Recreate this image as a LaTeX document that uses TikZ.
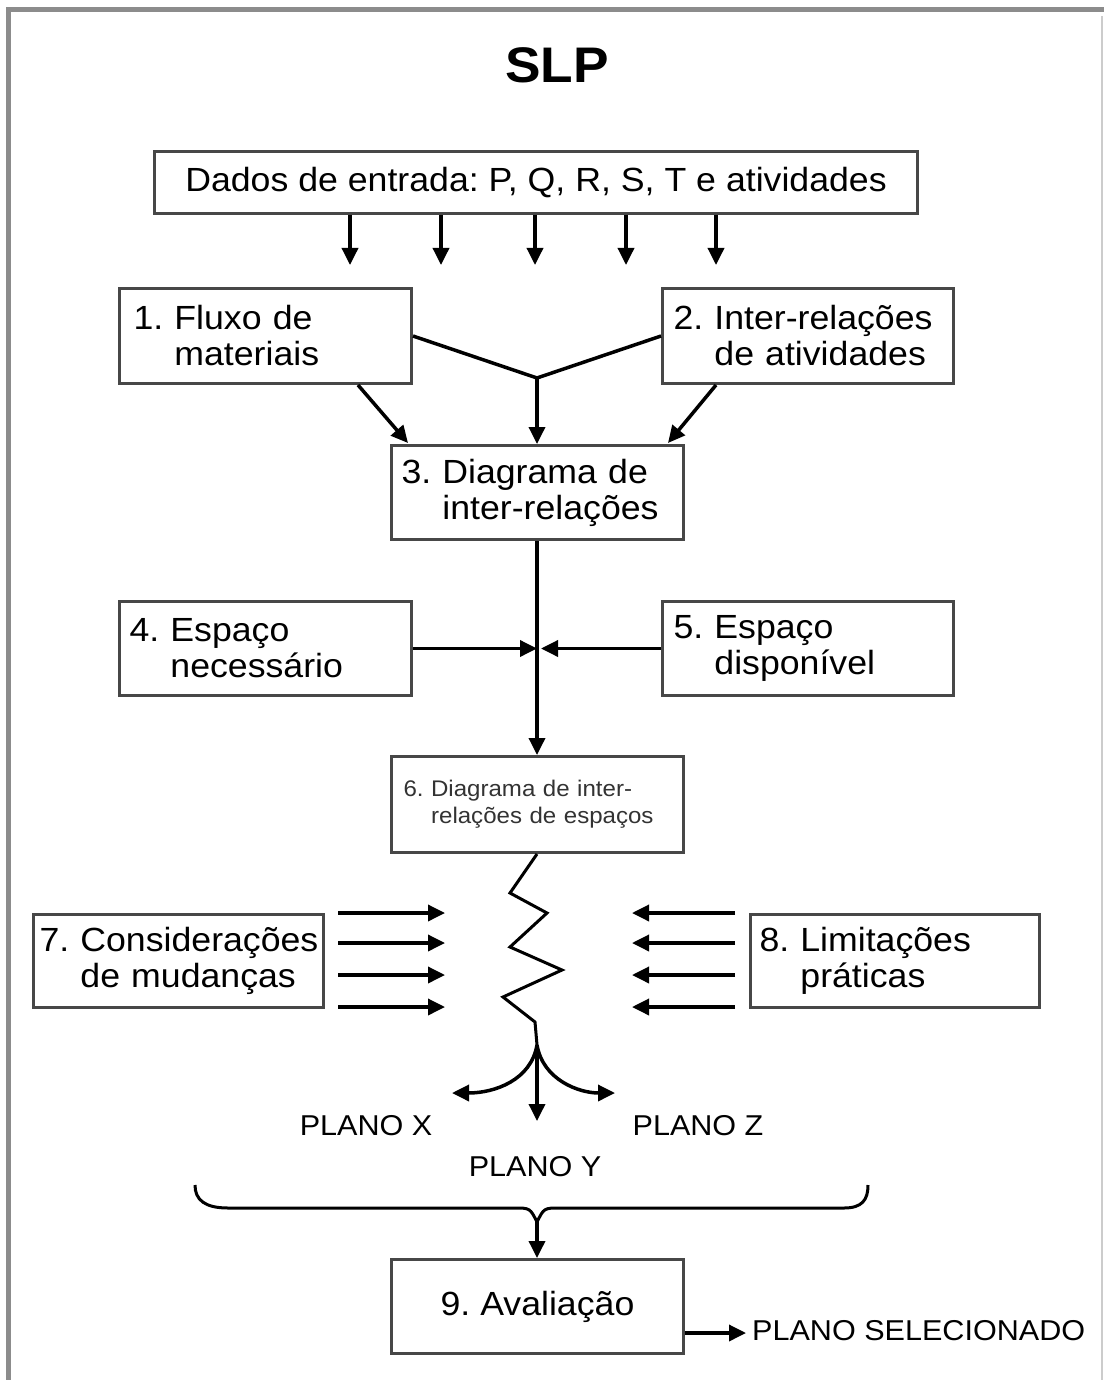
\documentclass[tikz,border=0pt]{standalone}
\usepackage{fontspec}
\setmainfont{Liberation Sans}[FakeStretch=1.065]
\usetikzlibrary{arrows.meta,calc}
\newcommand\mainfs{\fontsize{33.5}{36}\selectfont}
\newcommand\smallfs{\fontsize{22.6}{27}\selectfont}
\newcommand\labfs{\fontsize{28.7}{30}\selectfont}
\begin{document}
\frenchspacing
\begin{tikzpicture}[x=1pt,y=-1pt,
  box/.style={draw=black!72, line width=3pt, rectangle, anchor=north west,
    inner ysep=0pt, font=\mainfs, text=black},
  lbox/.style={box, align=left},
  line/.style={line width=3.5pt, black},
  arr/.style={line width=3.5pt, black, -{Triangle[length=17pt,width=16pt]}},
  lab/.style={font=\labfs, text=black, inner sep=0pt}]
\useasboundingbox (0,0) rectangle (1104,1380);
\fill[white] (0,0) rectangle (1104,1380);
% frame
\draw[black!45, line width=5pt] (8,1380) -- (8,10) -- (1104,10);
\draw[black!20, line width=1.5pt] (1102,16) -- (1102,1380);

\node[font=\fontsize{50}{50}\selectfont\bfseries] (title) at (557,65) {SLP};

\node[box, align=center, minimum width=763pt, minimum height=62pt] (top) at (153,150)
  {Dados de entrada: P, Q, R, S, T e atividades};

\node[lbox, minimum width=292pt, minimum height=95pt, inner xsep=14pt, text width=264pt] (b1) at (118,287)
  {\mbox{1. Fluxo de}\\\mbox{\hphantom{1. }materiais}};
\node[lbox, minimum width=291pt, minimum height=95pt, inner xsep=11pt, text width=269pt] (b2) at (661,287)
  {\mbox{2. Inter-relações}\\\mbox{\hphantom{2. }de atividades}};
\node[lbox, minimum width=292pt, minimum height=94pt, inner xsep=10pt, text width=272pt] (b3) at (390,444)
  {\mbox{3. Diagrama de}\\\mbox{\hphantom{3. }inter-relações}};
\node[lbox, minimum width=292pt, minimum height=94pt, inner xsep=10pt, text width=272pt] (b4) at (118,600)
  {\mbox{4. Espaço}\\\mbox{\hphantom{4. }necessário}};
\node[lbox, minimum width=291pt, minimum height=94pt, inner xsep=11pt, text width=269pt] (b5) at (661,600)
  {\mbox{5. Espaço}\\\mbox{\hphantom{5. }disponível}};
\node[lbox, font=\smallfs, text=black!80, minimum width=292pt, minimum height=96pt, inner xsep=12pt, text width=268pt] (b6) at (390,755)
  {\mbox{6. Diagrama de inter-}\\\mbox{\hphantom{6. }relações de espaços}};
\node[lbox, minimum width=290pt, minimum height=93pt, inner xsep=6pt, text width=278pt] (b7) at (32,913)
  {\mbox{7. Considerações}\\\mbox{\hphantom{7. }de mudanças}};
\node[lbox, minimum width=289pt, minimum height=93pt, inner xsep=9pt, text width=271pt] (b8) at (749,913)
  {\mbox{8. Limitações}\\\mbox{\hphantom{8. }práticas}};
\node[box, align=center, minimum width=292pt, minimum height=94pt] (b9) at (390,1258)
  {9. Avaliação};

% input arrows
\foreach \x in {350,441,535,626,716}{
  \coordinate (tx) at (\x,0);
  \draw[arr] (top.south -| tx) -- ++(0,50);
}

% 1 & 2 -> 3
\coordinate (j1) at (537,378);
\draw[line] (b1.east) -- (j1) -- (b2.west);
\draw[arr] (j1) -- (b3.north -| j1);
\draw[arr] ($(b1.south east)+(-55,0)$) -- ($(b3.north west)+(18,-1)$);
\draw[arr] ($(b2.south west)+(55,0)$) -- ($(b3.north east)+(-17,-1)$);

% 3 -> 6 with 4,5
\coordinate (vx) at (537,0);
\draw[arr] (b3.south -| vx) -- (b6.north -| vx);
\draw[arr] (b4.east) -- (b4.east -| vx);
\draw[arr] (b5.west) -- ($(b5.west -| vx)+(4,0)$);

% zigzag
\coordinate (fork) at (537,1045);
\draw[line, line width=3pt, line join=miter] (b6.south -| vx) -- (510,893) -- (547,913) -- (510,947)
  -- (562,970) -- (503,997) -- (535,1022) -- (fork);

% 7 and 8 arrows
\foreach \y in {913,943,975,1007}{
  \coordinate (ly) at (0,\y);
  \draw[arr] ($(b7.east |- ly)+(13,0)$) -- ($(b7.east |- ly)+(120,0)$);
  \draw[arr] ($(b8.west |- ly)+(-14,0)$) -- ($(b8.west |- ly)+(-117,0)$);
}

% plans
\coordinate (pxa) at (452,1093);
\coordinate (pza) at (615,1093);
\coordinate (pya) at (537,1121);
\draw[arr] (fork) .. controls (531,1080) and (495,1093) .. (pxa);
\draw[arr] (fork) .. controls (543,1080) and (579,1093) .. (pza);
\draw[arr] (fork) -- (pya);
\node[lab] (px) at (366,1126) {PLANO X};
\node[lab] (pz) at (698,1126) {PLANO Z};
\node[lab] (py) at (535,1167) {PLANO Y};

% brace
\coordinate (bm) at (537,1222);
\draw[line, line width=3pt] (195,1185) .. controls (195,1200) and (205,1208) .. (228,1208) -- (514,1208)
  .. controls (530,1208) .. (bm) .. controls (544,1208) .. (560,1208) -- (844,1208)
  .. controls (862,1208) and (868,1200) .. (868,1185);
\draw[arr] (bm) -- (b9.north -| bm);

% selected
\coordinate (sel) at ($(b9.south east)+(0,-22)$);
\node[lab, anchor=west] (ps) at (752,1331) {PLANO SELECIONADO};
\draw[arr] (sel) -- ($(ps.west |- sel)+(-6,0)$);
\end{tikzpicture}
\end{document}
